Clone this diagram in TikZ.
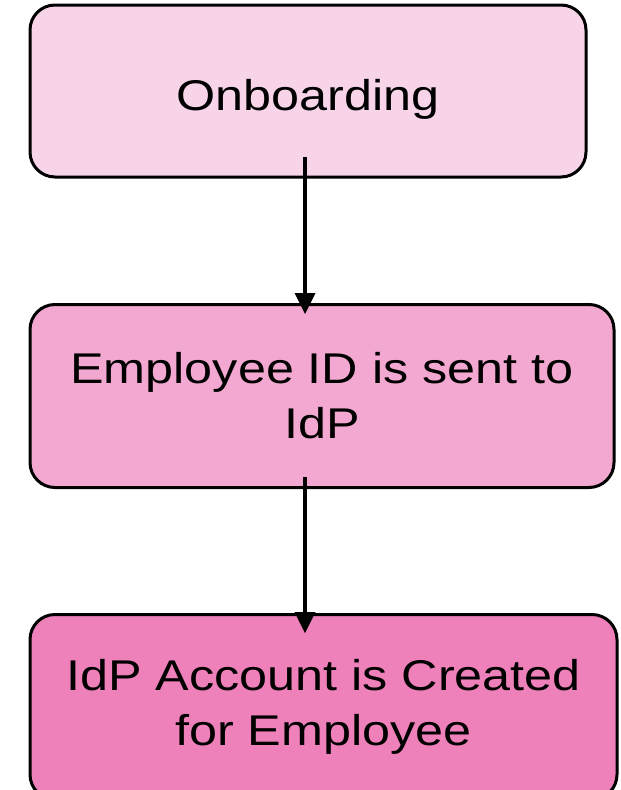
\documentclass[tikz,border=0pt]{standalone}
\usepackage{fontspec}
\setmainfont{Liberation Sans}[FakeStretch=1.17]
\usetikzlibrary{arrows.meta}
\definecolor{pinkA}{RGB}{248,212,233}
\definecolor{pinkB}{RGB}{243,168,209}
\definecolor{pinkC}{RGB}{238,128,186}
\begin{document}
\begin{tikzpicture}[x=1pt,y=-1pt,
  stage/.style={draw=black, line width=3pt, rounded corners=25pt,
    align=center, inner sep=0pt, font=\fontsize{43}{55}\selectfont},
  flow/.style={line width=4.5pt,
    -{Triangle[width=21pt,length=21pt,line width=0pt]}}]
\useasboundingbox (0,0) rectangle (621,790);
\clip (0,0) rectangle (621,790);

% the three process stages
\node[stage, fill=pinkA, minimum width=556pt, minimum height=172pt,
      text height=38pt, text depth=0pt]
  (onb) at (308,91) {Onboarding};
\node[stage, fill=pinkB, minimum width=584pt, minimum height=183pt]
  (send) at (322,396) {Employee ID is sent to\\IdP};
\node[stage, fill=pinkC, minimum width=587pt, minimum height=185pt]
  (acct) at (323.5,707) {IdP Account is Created\\for Employee};

% vertical axis shared by the connectors
\coordinate (ax) at (305,0);

\draw[flow] ([yshift=22pt]onb.south -| ax) -- ([yshift=-11pt]send.north -| ax);
\draw[flow] ([yshift=12pt]send.south -| ax) -- ([yshift=-20pt]acct.north -| ax);
\end{tikzpicture}
\end{document}
